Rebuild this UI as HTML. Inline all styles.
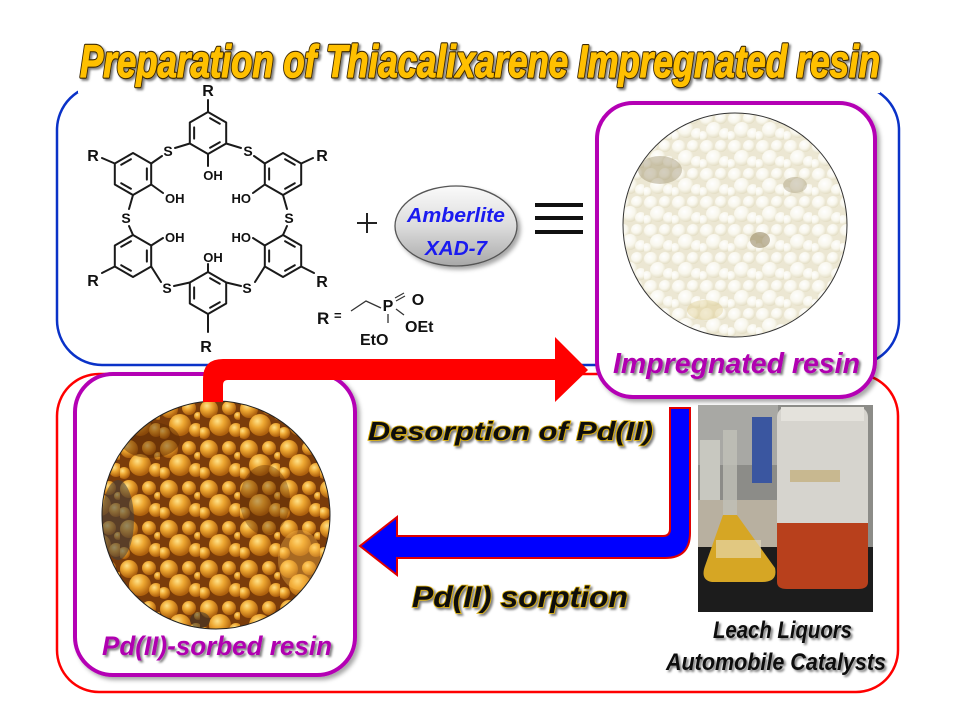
<!DOCTYPE html>
<html><head><meta charset="utf-8"><style>
html,body{margin:0;padding:0;background:#fff;}
svg{display:block;}
text{font-family:"Liberation Sans",Arial,sans-serif;}
</style></head><body>
<svg width="960" height="720" viewBox="0 0 960 720" xmlns="http://www.w3.org/2000/svg">
<defs>
 <radialGradient id="gw" cx="40%" cy="35%" r="65%">
  <stop offset="0" stop-color="#ffffff"/><stop offset="0.6" stop-color="#f7f5e8"/><stop offset="1" stop-color="#ded7b8"/>
 </radialGradient>
 <radialGradient id="go" cx="38%" cy="32%" r="65%">
  <stop offset="0" stop-color="#ffe28a"/><stop offset="0.45" stop-color="#eea832"/><stop offset="1" stop-color="#b0620e"/>
 </radialGradient>
 <pattern id="pw" width="28" height="28" patternUnits="userSpaceOnUse">
  <rect width="28" height="28" fill="#e8e2c8"/>
  <circle cx="7" cy="7" r="7" fill="url(#gw)"/>
  <circle cx="21" cy="6" r="6" fill="url(#gw)"/>
  <circle cx="14" cy="18" r="8" fill="url(#gw)"/>
  <circle cx="3" cy="24" r="5" fill="url(#gw)"/>
  <circle cx="25" cy="22" r="6" fill="url(#gw)"/>
 </pattern>
 <pattern id="po" width="40" height="40" patternUnits="userSpaceOnUse">
  <rect width="40" height="40" fill="#7a3c0a"/>
  <circle cx="9" cy="9" r="9" fill="url(#go)"/>
  <circle cx="29" cy="8" r="7" fill="url(#go)"/>
  <circle cx="20" cy="25" r="11" fill="url(#go)"/>
  <circle cx="4" cy="33" r="6" fill="url(#go)"/>
  <circle cx="36" cy="30" r="7" fill="url(#go)"/>
  <circle cx="38" cy="16" r="4" fill="url(#go)"/>
 </pattern>
 <linearGradient id="gel" x1="0" y1="0" x2="0" y2="1">
  <stop offset="0" stop-color="#fafafa"/><stop offset="0.5" stop-color="#dcdcdc"/><stop offset="1" stop-color="#a8a8a8"/>
 </linearGradient>
 <clipPath id="cR"><circle cx="735" cy="225" r="112"/></clipPath>
 <clipPath id="cL"><circle cx="216" cy="515" r="114"/></clipPath>
 <filter id="sh" x="-10%" y="-10%" width="130%" height="130%">
  <feDropShadow dx="3" dy="3" stdDeviation="2" flood-color="#000" flood-opacity="0.35"/>
 </filter>
 <filter id="ts" x="-5%" y="-20%" width="115%" height="160%">
  <feDropShadow dx="2" dy="2" stdDeviation="1" flood-color="#000" flood-opacity="0.5"/>
 </filter>
</defs>

<!-- blue box -->
<rect x="57" y="85" width="842" height="280" rx="45" ry="45" fill="none" stroke="#0a32c8" stroke-width="2.5"/>
<!-- red box -->
<rect x="57" y="374" width="841" height="318" rx="42" ry="42" fill="none" stroke="#ff0000" stroke-width="2.5"/>
<!-- cover for title area -->
<rect x="78" y="28" width="802" height="65" fill="#fff"/>

<!-- title -->
<text x="80" y="77" font-size="45" font-weight="bold" font-style="italic" textLength="800" lengthAdjust="spacingAndGlyphs" fill="#3a2800" stroke="#3a2800" stroke-width="3.4" stroke-linejoin="round" filter="url(#ts)">Preparation of Thiacalixarene Impregnated resin</text>
<text x="80" y="77" font-size="45" font-weight="bold" font-style="italic" textLength="800" lengthAdjust="spacingAndGlyphs" fill="#FFC000" stroke="#FFC000" stroke-width="1.2" stroke-linejoin="round">Preparation of Thiacalixarene Impregnated resin</text>

<!-- chemical structure -->
<g stroke="#1a1a1a" stroke-width="2" fill="none" stroke-linecap="round" stroke-linejoin="round">
 <g transform="translate(208,133)"><path d="M0,-21 L18.19,-10.5 L18.19,10.5 L0,21 L-18.19,10.5 L-18.19,-10.5 Z"/><path d="M2.08,-14.8 L11.78,-9.2 M11.78,9.2 L2.08,14.8 M-13.86,5.6 L-13.86,-5.6"/></g>
 <g transform="translate(133,174)"><path d="M0,-21 L18.19,-10.5 L18.19,10.5 L0,21 L-18.19,10.5 L-18.19,-10.5 Z"/><path d="M13.86,-5.6 L13.86,5.6 M-2.08,14.8 L-11.78,9.2 M-11.78,-9.2 L-2.08,-14.8"/></g>
 <g transform="translate(283,174)"><path d="M0,-21 L18.19,-10.5 L18.19,10.5 L0,21 L-18.19,10.5 L-18.19,-10.5 Z"/><path d="M-13.86,-5.6 L-13.86,5.6 M2.08,14.8 L11.78,9.2 M11.78,-9.2 L2.08,-14.8"/></g>
 <g transform="translate(133,256)"><path d="M0,-21 L18.19,-10.5 L18.19,10.5 L0,21 L-18.19,10.5 L-18.19,-10.5 Z"/><path d="M13.86,-5.6 L13.86,5.6 M-2.08,-14.8 L-11.78,-9.2 M-11.78,9.2 L-2.08,14.8"/></g>
 <g transform="translate(283,256)"><path d="M0,-21 L18.19,-10.5 L18.19,10.5 L0,21 L-18.19,10.5 L-18.19,-10.5 Z"/><path d="M-13.86,-5.6 L-13.86,5.6 M2.08,-14.8 L11.78,-9.2 M11.78,9.2 L2.08,14.8"/></g>
 <g transform="translate(208,293)"><path d="M0,-21 L18.19,-10.5 L18.19,10.5 L0,21 L-18.19,10.5 L-18.19,-10.5 Z"/><path d="M2.08,14.8 L11.78,9.2 M11.78,-9.2 L2.08,-14.8 M-13.86,5.6 L-13.86,-5.6"/></g>
 <!-- substituent bonds -->
 <path d="M208,112 L208,100 M208,154 L208,166 M189.8,143.5 L175,148 M226.2,143.5 L241,148"/>
 <path d="M151.2,163.5 L162,156 M114.8,163.5 L102,158 M151.2,184.5 L163,193 M133,195 L129,209"/>
 <path d="M133,235 L129,226 M151.2,245.5 L163,238 M114.8,266.5 L102,273 M151.2,266.5 L161,282"/>
 <path d="M189.8,282.5 L174,286 M208,272 L208,264 M208,314 L208,332 M226.2,282.5 L241,286"/>
 <path d="M264.8,163.5 L254,156 M301.2,163.5 L313,158 M264.8,184.5 L253,193 M283,195 L287,209"/>
 <path d="M283,235 L287,226 M264.8,245.5 L253,238 M301.2,266.5 L314,273 M264.8,266.5 L255,282"/>
</g>
<g font-weight="bold" fill="#111" font-size="15">
 <text x="208" y="96" text-anchor="middle" font-size="16">R</text>
 <text x="93" y="161" text-anchor="middle" font-size="16">R</text>
 <text x="322" y="161" text-anchor="middle" font-size="16">R</text>
 <text x="93" y="286" text-anchor="middle" font-size="16">R</text>
 <text x="322" y="287" text-anchor="middle" font-size="16">R</text>
 <text x="206" y="352" text-anchor="middle" font-size="16">R</text>
 <text x="168" y="156" text-anchor="middle" font-size="14">S</text>
 <text x="248" y="156" text-anchor="middle" font-size="14">S</text>
 <text x="126" y="223" text-anchor="middle" font-size="14">S</text>
 <text x="289" y="223" text-anchor="middle" font-size="14">S</text>
 <text x="167" y="293" text-anchor="middle" font-size="14">S</text>
 <text x="247" y="293" text-anchor="middle" font-size="14">S</text>
 <text x="213" y="180" text-anchor="middle" font-size="13">OH</text>
 <text x="165" y="203" font-size="13">OH</text>
 <text x="251" y="203" text-anchor="end" font-size="13">HO</text>
 <text x="165" y="242" font-size="13">OH</text>
 <text x="251" y="242" text-anchor="end" font-size="13">HO</text>
 <text x="213" y="262" text-anchor="middle" font-size="13">OH</text>
</g>

<!-- R = definition -->
<text x="317" y="324" font-size="17" font-weight="bold" fill="#111">R</text>
<text x="334" y="320" font-size="13" font-weight="bold" fill="#111">=</text>
<path d="M351,311 L366,301 L381,308" stroke="#333" stroke-width="1.3" fill="none"/>
<text x="388" y="311" font-size="16" font-weight="bold" fill="#111" text-anchor="middle">P</text>
<path d="M395,298 L404,293 M396,301 L405,296" stroke="#333" stroke-width="1.2"/>
<text x="418" y="305" font-size="16" font-weight="bold" fill="#111" text-anchor="middle">O</text>
<path d="M388,314 L388,323 M396,309 L404,315" stroke="#333" stroke-width="1.3"/>
<text x="405" y="332" font-size="16" font-weight="bold" fill="#111">OEt</text>
<text x="360" y="345" font-size="16" font-weight="bold" fill="#111">EtO</text>

<!-- plus -->
<path d="M367,213 L367,233 M357,223 L377,223" stroke="#222" stroke-width="2"/>

<!-- Amberlite ellipse -->
<ellipse cx="456" cy="226" rx="61" ry="40" fill="url(#gel)" stroke="#555" stroke-width="1.3" filter="url(#sh)"/>
<text x="407" y="222" font-size="20" font-weight="bold" font-style="italic" fill="#1a1af0" textLength="98" lengthAdjust="spacingAndGlyphs">Amberlite</text>
<text x="425" y="255" font-size="20" font-weight="bold" font-style="italic" fill="#1a1af0" textLength="62" lengthAdjust="spacingAndGlyphs">XAD-7</text>

<!-- equivalence -->
<path d="M535,205 L583,205 M535,218 L583,218 M535,232 L583,232" stroke="#111" stroke-width="4"/>

<!-- right purple box -->
<rect x="597" y="103" width="278" height="294" rx="36" ry="36" fill="#fff" stroke="#b400b4" stroke-width="4" filter="url(#sh)"/>
<g clip-path="url(#cR)">
 <rect x="620" y="110" width="232" height="232" fill="url(#pw)"/>
 <ellipse cx="660" cy="170" rx="22" ry="14" fill="#8a7a50" opacity="0.45"/>
 <ellipse cx="795" cy="185" rx="12" ry="8" fill="#8a7a50" opacity="0.4"/>
 <ellipse cx="760" cy="240" rx="10" ry="8" fill="#6a5420" opacity="0.5"/>
 <ellipse cx="705" cy="310" rx="18" ry="10" fill="#d8c070" opacity="0.4"/>
 <ellipse cx="735" cy="225" rx="112" ry="112" fill="#ffffff" opacity="0.2"/>
</g>
<circle cx="735" cy="225" r="112" fill="none" stroke="#333" stroke-width="1"/>
<text x="613" y="373" font-size="29" font-weight="bold" font-style="italic" fill="#b000b0" textLength="247" lengthAdjust="spacingAndGlyphs" filter="url(#ts)">Impregnated resin</text>

<!-- left purple box -->
<rect x="75" y="374" width="280" height="301" rx="38" ry="38" fill="#fff" stroke="#b400b4" stroke-width="4" filter="url(#sh)"/>
<g clip-path="url(#cL)">
 <rect x="100" y="400" width="232" height="232" fill="url(#po)"/>
 <ellipse cx="118" cy="520" rx="16" ry="40" fill="#404040" opacity="0.55"/>
 <ellipse cx="150" cy="440" rx="30" ry="18" fill="#5a2a05" opacity="0.45"/>
 <ellipse cx="265" cy="500" rx="25" ry="35" fill="#5a2a05" opacity="0.35"/>
 <ellipse cx="300" cy="560" rx="22" ry="30" fill="#ffc050" opacity="0.35"/>
 <ellipse cx="200" cy="620" rx="10" ry="8" fill="#303030" opacity="0.5"/>
</g>
<circle cx="216" cy="515" r="114" fill="none" stroke="#222" stroke-width="1"/>
<text x="102" y="655" font-size="27" font-weight="bold" font-style="italic" fill="#b000b0" textLength="230" lengthAdjust="spacingAndGlyphs" filter="url(#ts)">Pd(II)-sorbed resin</text>

<!-- red arrow -->
<path d="M203,402 L203,379 Q203,359 223,359 L555,359 L555,337 L588,370 L555,402 L555,380 L228,380 Q223,380 223,385 L223,402 Z" fill="#ff0000"/>

<!-- blue arrow -->
<path d="M670,408 L690,408 L690,533 Q690,558 665,558 L397,558 L397,575 L360,546 L397,517 L397,536 L663,536 Q670,536 670,529 Z" fill="#0000ff" stroke="#e00000" stroke-width="2" stroke-linejoin="miter"/>

<!-- arrow labels -->
<text x="368" y="440" font-size="26" font-weight="bold" font-style="italic" fill="#111" stroke="#d8aa00" stroke-width="1.6" paint-order="stroke" textLength="285" lengthAdjust="spacingAndGlyphs" filter="url(#ts)">Desorption of Pd(II)</text>
<text x="412" y="607" font-size="30" font-weight="bold" font-style="italic" fill="#111" stroke="#d8aa00" stroke-width="1.6" paint-order="stroke" textLength="216" lengthAdjust="spacingAndGlyphs" filter="url(#ts)">Pd(II) sorption</text>

<!-- leach liquor photo -->
<g>
 <rect x="698" y="405" width="175" height="207" fill="#8c8c88"/>
 <rect x="698" y="405" width="80" height="60" fill="#a8a8a4"/>
 <rect x="700" y="440" width="20" height="80" fill="#c8c8c0"/>
 <rect x="752" y="417" width="20" height="66" fill="#3a56a0"/>
 <rect x="698" y="500" width="80" height="50" fill="#b8b0a0"/>
 <rect x="698" y="547" width="175" height="65" fill="#1c1c1c"/>
 <rect x="777" y="407" width="91" height="180" rx="10" fill="#d6d4ce"/>
 <rect x="781" y="407" width="83" height="14" fill="#e4e2dc"/>
 <rect x="790" y="470" width="50" height="12" fill="#c8b890"/>
 <path d="M777,523 L868,523 L868,582 Q868,589 858,589 L787,589 Q777,589 777,582 Z" fill="#b8401c"/>
 <rect x="723" y="430" width="14" height="88" fill="#c0c0b8" opacity="0.8"/>
 <path d="M723,515 L737,515 L775,568 Q778,582 762,582 L712,582 Q700,580 705,566 Z" fill="#d6a624"/>
 <rect x="716" y="540" width="45" height="18" fill="#e8e0c0" opacity="0.6"/>
</g>
<text x="713" y="638" font-size="24" font-weight="bold" font-style="italic" fill="#111" textLength="139" lengthAdjust="spacingAndGlyphs" filter="url(#ts)">Leach Liquors</text>
<text x="666" y="670" font-size="24" font-weight="bold" font-style="italic" fill="#111" textLength="220" lengthAdjust="spacingAndGlyphs" filter="url(#ts)">Automobile Catalysts</text>
</svg>
</body></html>
